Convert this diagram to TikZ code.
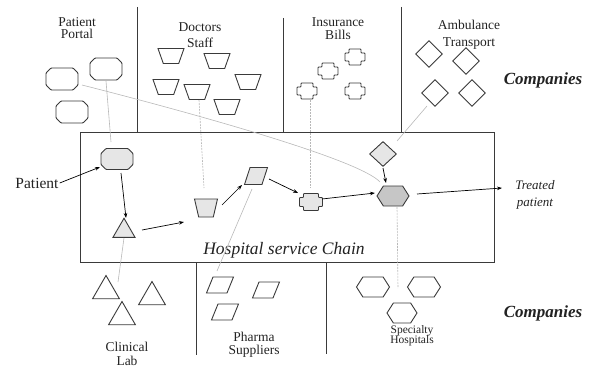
\documentclass[tikz,border=0pt]{standalone}
\usepackage{fontspec}
\setmainfont{Liberation Serif}
\usetikzlibrary{shapes.geometric,shapes.symbols,arrows.meta}
\definecolor{edgec}{HTML}{3A3A3A}
\definecolor{lfill}{HTML}{E6E6E6}
\definecolor{dfill}{HTML}{C6C6C6}
\definecolor{glink}{HTML}{B8B8B8}
\definecolor{txt}{HTML}{222222}
\tikzset{
  shp/.style={draw=edgec, line width=0.9pt, inner sep=1pt, fill=white},
  octn/.style={inner sep=0pt, minimum width=32pt, minimum height=22pt},
  trapz/.style={shp, trapezium, shape border rotate=180, trapezium angle=71, trapezium stretches=true, minimum width=26pt, minimum height=15pt},
  parag/.style={shp, trapezium, trapezium left angle=65, trapezium right angle=115, trapezium stretches=true, minimum width=27pt, minimum height=16pt},
  trian/.style={shp, regular polygon, regular polygon sides=3, minimum size=31pt},
  hexa/.style={shp, signal, signal to=east and west, signal pointer angle=115, minimum width=32pt, minimum height=20pt},
  dia/.style={shp, diamond, minimum width=27pt, minimum height=27pt},
  plusn/.style={inner sep=0pt, minimum width=20pt, minimum height=16pt},
  outl/.style={draw=edgec, line width=0.9pt, rounded corners=0.8pt},
  grayf/.style={fill=lfill},
  divline/.style={draw=edgec, line width=1pt},
  arr/.style={draw=black, line width=0.7pt, -{Stealth[length=5pt,width=3.6pt]}},
  glk/.style={draw=glink, line width=0.6pt},
  gdash/.style={glk, dash pattern=on 2pt off 1pt},
  lbl/.style={font=\fontsize{13.5}{13}\selectfont, align=center, text=txt, inner sep=0pt},
  comp/.style={font=\fontsize{17}{17}\selectfont\bfseries\itshape, text=txt, inner sep=0pt},
}
% plus-shaped outline around a named node: name, half width, half height, notch, extra style
\newcommand\plusoutline[5]{%
  \draw[outl,#5] ([shift={(-#2+#4,-#3)}]#1.center) -- ([shift={(#2-#4,-#3)}]#1.center)
    -- ([shift={(#2-#4,-#3+#4)}]#1.center) -- ([shift={(#2,-#3+#4)}]#1.center)
    -- ([shift={(#2,#3-#4)}]#1.center) -- ([shift={(#2-#4,#3-#4)}]#1.center)
    -- ([shift={(#2-#4,#3)}]#1.center) -- ([shift={(-#2+#4,#3)}]#1.center)
    -- ([shift={(-#2+#4,#3-#4)}]#1.center) -- ([shift={(-#2,#3-#4)}]#1.center)
    -- ([shift={(-#2,-#3+#4)}]#1.center) -- ([shift={(-#2+#4,-#3+#4)}]#1.center) -- cycle;}
% octagon outline around a named node: name, half width, half height, chamfer, extra style
\newcommand\octoutline[5]{%
  \draw[outl,#5] ([shift={(-#2+#4,-#3)}]#1.center) -- ([shift={(#2-#4,-#3)}]#1.center)
    -- ([shift={(#2,-#3+#4)}]#1.center) -- ([shift={(#2,#3-#4)}]#1.center)
    -- ([shift={(#2-#4,#3)}]#1.center) -- ([shift={(-#2+#4,#3)}]#1.center)
    -- ([shift={(-#2,#3-#4)}]#1.center) -- ([shift={(-#2,-#3+#4)}]#1.center) -- cycle;}
\begin{document}
\begin{tikzpicture}[x=1pt,y=-1pt]
\useasboundingbox (0,0) rectangle (592,369);

% main box and dividers
\node[divline, minimum width=414pt, minimum height=130pt, inner sep=0pt] (chain) at (287,197) {};
\draw[divline] (137,7) -- (137,132);
\draw[divline] (283,18) -- (283,132);
\draw[divline] (401,7) -- (401,132);
\draw[divline] (196,262) -- (196,355);
\draw[divline] (326,262) -- (326,354);

% labels
\node[lbl, font=\fontsize{13.5}{12.5}\selectfont] (lpp) at (77,28) {Patient\\Portal};
\node[lbl, font=\fontsize{13.5}{16}\selectfont] (lds) at (200,35) {Doctors\\Staff};
\node[lbl, font=\fontsize{13.5}{13}\selectfont] (lib) at (338,28.5) {Insurance\\Bills};
\node[lbl, font=\fontsize{13.5}{16.5}\selectfont] (lat) at (469,35) {Ambulance\\Transport};
\node[comp] (comp1) at (543,80) {Companies};
\node[comp] (comp2) at (543,313) {Companies};
\node[lbl, font=\fontsize{15.5}{16}\selectfont, inner sep=1pt] (pat) at (37,183) {Patient};
\node[lbl, font=\fontsize{13}{17}\selectfont\itshape] (tp) at (535,195) {Treated\\patient};
\node[lbl, font=\fontsize{17.5}{18}\selectfont\itshape] (hsc) at (284,250) {Hospital service Chain};
\node[lbl, font=\fontsize{13.5}{13.5}\selectfont] (lcl) at (127,354) {Clinical\\Lab};
\node[lbl, font=\fontsize{13.5}{12.5}\selectfont] (lps) at (254,345) {Pharma\\Suppliers};
\node[lbl, font=\fontsize{11.5}{10.5}\selectfont] (lsh) at (412,335.5) {Specialty\\Hospitals};

% patient portal
\node[octn] (por1) at (62,79) {};
\node[octn] (por2) at (106,69) {};
\node[octn] (por3) at (72,112) {};
\foreach \n in {por1,por2,por3} {\octoutline{\n}{16}{11}{5}{fill=white}}
% doctors staff
\node[trapz] (doc1) at (171,56) {};
\node[trapz] (doc2) at (217,61) {};
\node[trapz] (doc3) at (166,87) {};
\node[trapz] (doc4) at (197,92) {};
\node[trapz] (doc5) at (248,82) {};
\node[trapz] (doc6) at (227,107) {};
% insurance bills
\node[plusn] (ins1) at (355,57) {};
\node[plusn] (ins2) at (328,71) {};
\node[plusn] (ins3) at (307,91) {};
\node[plusn] (ins4) at (355,91) {};
\foreach \n in {ins1,ins2,ins3,ins4} {\plusoutline{\n}{10}{8}{4}{fill=white}}
% ambulance
\node[dia] (amb1) at (429,54) {};
\node[dia] (amb2) at (466,61) {};
\node[dia] (amb3) at (435,93) {};
\node[dia] (amb4) at (472,93) {};

% chain elements
\node[octn, minimum height=21pt] (po) at (117,159) {};
\octoutline{po}{16}{10.5}{5}{fill=lfill}
\node[trian, grayf, minimum size=25.5pt] (tri) at (124,231) {};
\node[trapz, grayf, minimum width=23pt, minimum height=18pt, trapezium angle=74] (trap) at (206,208) {};
\node[parag, grayf, minimum width=23pt, minimum height=17pt] (para) at (256,176) {};
\node[plusn, minimum width=23pt, minimum height=17pt] (cr) at (311,202) {};
\plusoutline{cr}{11.5}{8.5}{4}{fill=lfill}
\node[dia, grayf, minimum height=25pt] (dm) at (383,154) {};
\node[hexa, fill=dfill] (hex) at (393,196) {};

% bottom groups
\node[trian] (tb1) at (106,291) {};
\node[trian] (tb2) at (152,297) {};
\node[trian] (tb3) at (122,317) {};
\node[parag] (pb1) at (220,285) {};
\node[parag] (pb2) at (266,290) {};
\node[parag] (pb3) at (225,312) {};
\node[hexa, minimum width=33pt] (hb1) at (373,287) {};
\node[hexa, minimum width=33pt] (hb2) at (424,287) {};
\node[hexa, minimum width=30pt] (hb3) at (402,313) {};

% gray links
\draw[glk] ([yshift=-12pt]por2.center) -- ([xshift=-6pt,yshift=17pt]po.center);
\draw[glk] ([xshift=20pt,yshift=-6pt]por1.center) .. controls (200,115) and (360,160) .. ([xshift=-13pt,yshift=14pt]hex.center);
\draw[gdash] ([xshift=2pt,yshift=-8pt]doc4.center) -- ([xshift=-2pt,yshift=20pt]trap.center);
\draw[gdash] ([xshift=3pt,yshift=-9pt]ins3.center) -- ([xshift=-1pt,yshift=14pt]cr.center);
\draw[glk] ([xshift=-8pt,yshift=-13pt]amb3.center) -- ([xshift=14pt,yshift=13pt]dm.center);
\draw[gdash] ([xshift=4pt,yshift=-11pt]hex.center) -- ([xshift=-4pt,yshift=25pt]hb3.center);
\draw[glk] ([xshift=-4pt,yshift=-13pt]para.center) -- ([xshift=-3pt,yshift=14pt]pb1.center);
\draw[glk] ([yshift=-7pt]tri.center) -- ([xshift=-4pt,yshift=35pt]tb3.center);

% arrows
\draw[arr] (pat.east) -- ([xshift=-17pt,yshift=-8pt]po.center);
\draw[arr] ([xshift=4pt,yshift=-14pt]po.center) -- ([xshift=2pt,yshift=13pt]tri.center);
\draw[arr] ([xshift=18pt,yshift=1pt]tri.center) -- ([xshift=-22pt,yshift=-14pt]trap.center);
\draw[arr] ([xshift=16pt,yshift=3pt]trap.center) -- ([xshift=-14pt,yshift=-9pt]para.center);
\draw[arr] ([xshift=13pt,yshift=-3pt]para.center) -- ([xshift=-13pt,yshift=9pt]cr.center);
\draw[arr] ([xshift=11pt,yshift=3pt]cr.center) -- ([xshift=-18pt,yshift=3pt]hex.center);
\draw[arr] ([yshift=-14pt]dm.center) -- ([xshift=-7pt,yshift=13pt]hex.center);
\draw[arr] ([xshift=24pt,yshift=2pt]hex.center) -- ([xshift=-33pt,yshift=7pt]tp.center);
\end{tikzpicture}
\end{document}
